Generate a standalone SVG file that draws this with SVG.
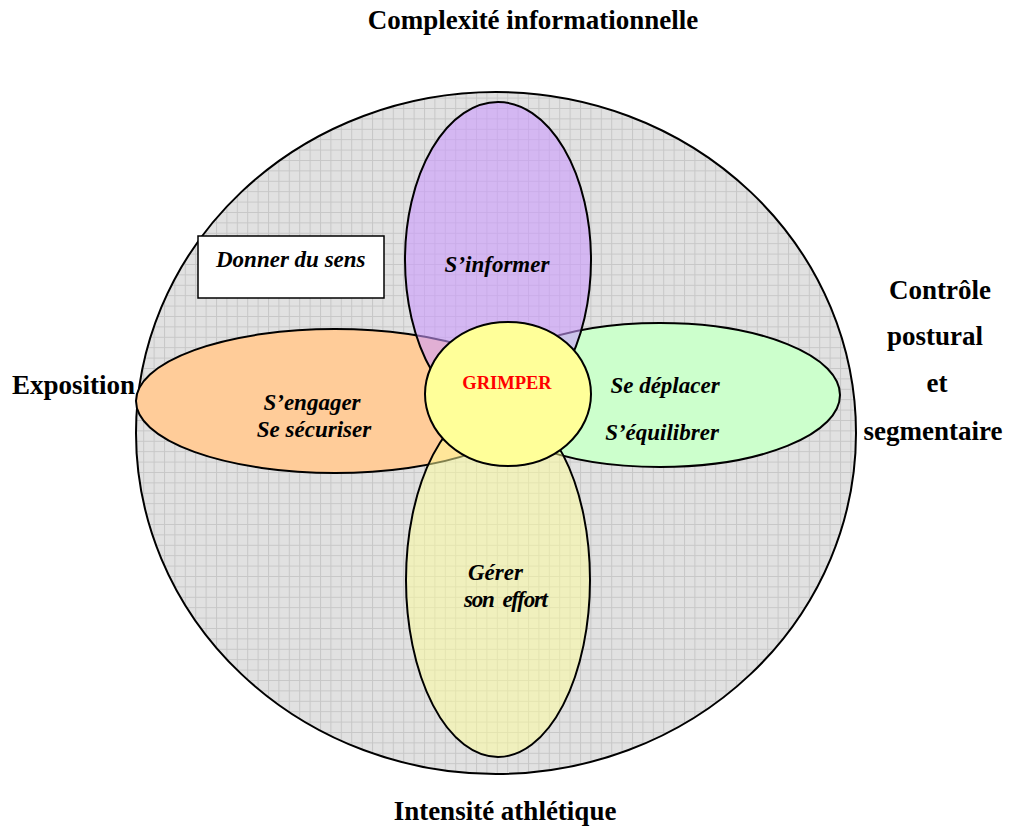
<svg xmlns="http://www.w3.org/2000/svg" width="1010" height="830" viewBox="0 0 1010 830">
<defs>
<pattern id="grid" width="10.4" height="10.4" patternUnits="userSpaceOnUse" x="8" y="4">
<rect width="10.4" height="10.4" fill="#e1e1e1"/>
<path d="M0 0.5H10.4M0.5 0V10.4" stroke="#c7c7c7" stroke-width="1" fill="none"/>
</pattern>
<style>
.shape{stroke:#000;stroke-width:2}
.lbl{font-family:"Liberation Serif","Times New Roman",serif;font-weight:bold;font-size:27px;fill:#000}
.it{font-family:"Liberation Serif","Times New Roman",serif;font-weight:bold;font-style:italic;font-size:23px;fill:#000}
</style>
</defs>
<rect width="1010" height="830" fill="#fff"/>
<g id="frame">
<ellipse class="shape" cx="496" cy="433" rx="360" ry="341" fill="url(#grid)"/>
</g>
<g id="sengager">
<ellipse class="shape" cx="335" cy="401" rx="199" ry="72" fill="#ffcc99"/>
<text class="it" x="312" y="410" text-anchor="middle">S’engager</text>
<text class="it" x="314" y="437" text-anchor="middle">Se sécuriser</text>
</g>
<g id="sedeplacer">
<ellipse class="shape" cx="660" cy="395" rx="180" ry="72" fill="#ccffcc"/>
<text class="it" x="665" y="393" text-anchor="middle">Se déplacer</text>
<text class="it" x="662" y="440" text-anchor="middle">S’équilibrer</text>
</g>
<g id="sinformer">
<ellipse class="shape" cx="498" cy="260" rx="93" ry="158" fill="#cc99ff" fill-opacity="0.58"/>
<text class="it" x="497" y="272" text-anchor="middle">S’informer</text>
</g>
<g id="gerer">
<ellipse class="shape" cx="498" cy="580" rx="92" ry="177" fill="#ffff99" fill-opacity="0.5"/>
<text class="it" x="468" y="580">Gérer</text>
<text class="it" x="464" y="607" xml:space="preserve" textLength="84" lengthAdjust="spacing">son  effort</text>
</g>
<g id="grimper">
<ellipse class="shape" cx="508" cy="394" rx="83" ry="72" fill="#ffff99"/>
<text x="507" y="389" text-anchor="middle" font-family="Liberation Serif,'Times New Roman',serif" font-weight="bold" font-size="18.5" fill="#ff0000">GRIMPER</text>
</g>
<g id="donner">
<rect x="198" y="236" width="186" height="62" fill="#fff" stroke="#000" stroke-width="1.5"/>
<text class="it" x="216" y="267">Donner du sens</text>
</g>
<g id="axes">
<text class="lbl" x="533" y="29" text-anchor="middle">Complexité informationnelle</text>
<text class="lbl" x="505" y="820" text-anchor="middle">Intensité athlétique</text>
<text class="lbl" x="12" y="394">Exposition</text>
<text class="lbl" x="940" y="299" text-anchor="middle">Contrôle</text>
<text class="lbl" x="935" y="345" text-anchor="middle">postural</text>
<text class="lbl" x="937" y="392" text-anchor="middle">et</text>
<text class="lbl" x="933" y="440" text-anchor="middle">segmentaire</text>
</g>
<g id="connectors"/>
</svg>
